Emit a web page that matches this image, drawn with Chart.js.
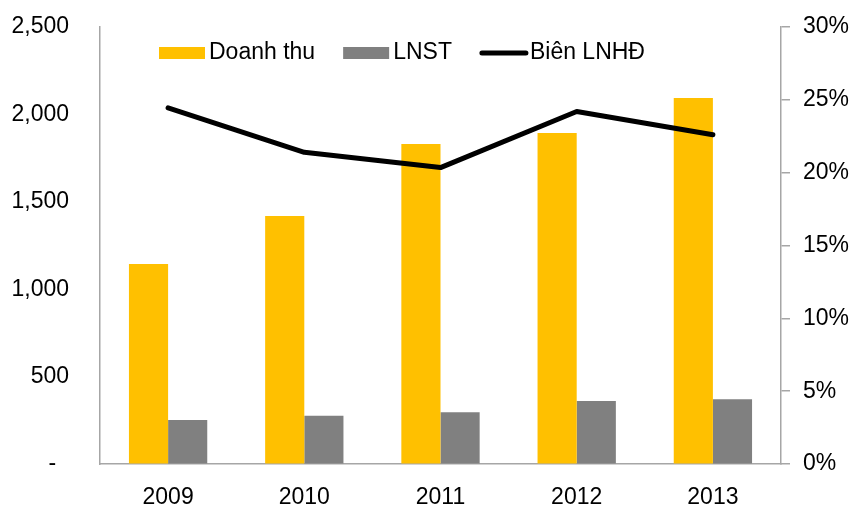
<!DOCTYPE html>
<html>
<head>
<meta charset="utf-8">
<script src="https://cdn.jsdelivr.net/npm/chart.js@4/dist/chart.umd.min.js"></script>
<style>
  html, body { margin: 0; padding: 0; background: #fff; }
  #wrap { width: 856px; height: 506px; }
</style>
</head>
<body>
<div id="wrap"><canvas id="c" width="856" height="506"></canvas></div>
<script>
const years = ['2009', '2010', '2011', '2012', '2013'];
const doanhThu = [1144, 1419, 1831, 1894, 2094];
const lnst = [252, 276, 296, 360, 370];
const bienLNHD = [24.45, 21.4, 20.35, 24.2, 22.6];
const seriesNames = ['Doanh thu', 'LNST', 'Biên LNHĐ'];

const FONT = '"Liberation Sans", Arial, sans-serif';
const AXIS = '#a6a6a6';

const legendPlugin = {
  id: 'inlineLegend',
  afterDraw(chart) {
    const ctx = chart.ctx;
    ctx.save();
    ctx.font = '23px ' + FONT;
    ctx.textBaseline = 'middle';
    ctx.textAlign = 'left';
    ctx.fillStyle = '#000';
    let x = 159;
    const yc = 53;
    const order = [1, 2, 0];
    order.forEach((di) => {
      const ds = chart.data.datasets[di];
      if (ds.type === 'line') {
        ctx.strokeStyle = ds.borderColor;
        ctx.lineWidth = 5;
        ctx.lineCap = 'round';
        ctx.beginPath();
        ctx.moveTo(x + 2, yc);
        ctx.lineTo(x + 46, yc);
        ctx.stroke();
      } else {
        ctx.fillStyle = ds.backgroundColor;
        ctx.fillRect(x, yc - 6, 46, 12);
      }
      x += 50;
      ctx.fillStyle = '#000';
      ctx.fillText(ds.label, x, yc);
      x += ctx.measureText(ds.label).width + 28;
    });
    ctx.restore();
  }
};

new Chart(document.getElementById('c'), {
  type: 'bar',
  data: {
    labels: years,
    datasets: [
      {
        type: 'line',
        label: seriesNames[2],
        data: bienLNHD,
        yAxisID: 'y1',
        borderColor: '#000000',
        backgroundColor: '#000000',
        borderWidth: 5,
        tension: 0,
        pointRadius: 0,
        borderJoinStyle: 'round',
        borderCapStyle: 'round',
        order: 0
      },
      {
        label: seriesNames[0],
        data: doanhThu,
        yAxisID: 'y',
        backgroundColor: '#FFC000',
        categoryPercentage: 0.575,
        barPercentage: 1.0,
        order: 1
      },
      {
        label: seriesNames[1],
        data: lnst,
        yAxisID: 'y',
        backgroundColor: '#808080',
        categoryPercentage: 0.575,
        barPercentage: 1.0,
        order: 1
      }
    ]
  },
  options: {
    responsive: false,
    animation: false,
    devicePixelRatio: 1,
    layout: { padding: { top: 27, left: 0, right: 0, bottom: 0 } },
    plugins: {
      legend: { display: false },
      tooltip: { enabled: false }
    },
    scales: {
      x: {
        grid: { display: false, drawTicks: false },
        border: { display: true, color: AXIS, width: 1.5 },
        ticks: { color: '#000', font: { family: FONT, size: 23 }, padding: 20, maxRotation: 0 },
        afterFit(s) { s.height = 42; }
      },
      y: {
        position: 'left',
        min: 0, max: 2500,
        grid: { display: true, drawOnChartArea: false, drawTicks: true, tickLength: 28, color: 'rgba(0,0,0,0)' },
        border: { display: true, color: AXIS, width: 1.5 },
        ticks: {
          stepSize: 500,
          color: '#000',
          font: { family: FONT, size: 23, lineHeight: 1.0 },
          padding: 3,
          callback: (v) => v === 0 ? '-  ' : v.toLocaleString('en-US')
        },
        afterFit(s) { s.width = 100; }
      },
      y1: {
        position: 'right',
        min: 0, max: 30,
        grid: { display: true, drawOnChartArea: false, drawTicks: true, tickLength: 9, color: AXIS, lineWidth: 1.5 },
        border: { display: true, color: AXIS, width: 1.5 },
        ticks: {
          stepSize: 5,
          color: '#000',
          font: { family: FONT, size: 23, lineHeight: 1.0 },
          padding: 13,
          callback: (v) => v + '%'
        },
        afterFit(s) { s.width = 75; }
      }
    }
  },
  plugins: [legendPlugin]
});
</script>
</body>
</html>
